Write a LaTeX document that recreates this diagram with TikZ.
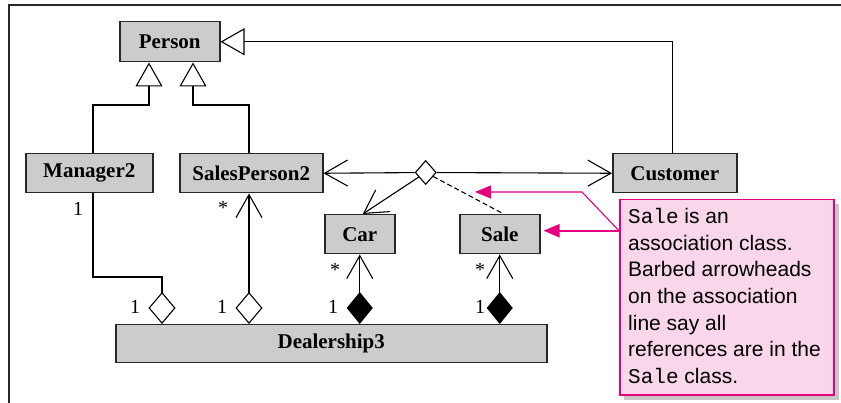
\documentclass[tikz,border=0pt]{standalone}
\usepackage{fontspec}
\setmainfont{Liberation Serif}
\newfontfamily\notesans{Liberation Sans}
\newfontfamily\notemono{Liberation Mono}
\usetikzlibrary{arrows.meta,shapes.geometric}
\definecolor{boxgray}{RGB}{204,204,204}
\definecolor{edgegray}{RGB}{40,40,40}
\definecolor{callmag}{RGB}{230,0,126}
\definecolor{callpink}{RGB}{250,214,234}
\begin{document}
\begin{tikzpicture}[x=1pt,y=-1pt,
  classbox/.style={draw=edgegray, line width=1.5pt, fill=boxgray, inner sep=0pt, anchor=north west,
    font=\fontsize{21}{25}\selectfont\bfseries},
  conn/.style={line width=1.1pt, draw=black},
  inh/.style={conn, -{Triangle[length=24pt,width=27pt,fill=white]}},
  barbend/.style={-{Straight Barb[length=23pt,width=26pt]}},
  aggbarb/.style={arrows={Diamond[length=32pt,width=27pt,fill=white]-Straight Barb[length=23pt,width=26pt]}},
  compbarb/.style={arrows={Diamond[length=32pt,width=26pt,fill=black]-Straight Barb[length=23pt,width=26pt]}},
  aggr/.style={arrows={Diamond[length=32pt,width=27pt,fill=white]-}},
  mult/.style={font=\fontsize{20}{24}\selectfont, inner sep=0pt},
  assoc/.style={diamond, draw=black, line width=1.1pt, fill=white, minimum width=21pt, minimum height=24pt, inner sep=0pt},
  pinkthick/.style={draw=callmag, line width=2pt, -{Triangle[length=16pt,width=13pt]}},
  pinkthin/.style={draw=callmag, line width=1.1pt, -{Triangle[length=16pt,width=13pt]}},
]
\useasboundingbox (0,0) rectangle (841,403);
% frame
\draw[line width=1.5pt, edgegray] (9,403) -- (9,5) -- (841,5);

% classes
\node[classbox, minimum width=100pt, minimum height=40pt] (person) at (119,21) {Person};
\node[classbox, minimum width=127pt, minimum height=39pt] (mgr) at (25,153) {Manager2};
\node[classbox, minimum width=143pt, minimum height=39pt] (sp) at (179,153) {SalesPerson2};
\node[classbox, minimum width=124pt, minimum height=39pt] (cust) at (612,153) {Customer};
\node[classbox, minimum width=70pt, minimum height=39pt] (car) at (324,214) {Car};
\node[classbox, minimum width=80pt, minimum height=39pt] (sale) at (459,214) {Sale};
\node[classbox, minimum width=431pt, minimum height=38pt] (deal) at (115,324) {Dealership3};

% inheritance
\coordinate (j1) at (93,105);
\coordinate (j2) at (149,105);
\coordinate (j3) at (249,105);
\coordinate (j4) at (193,105);
\draw[inh] (mgr.north -| j1) |- (j2) -- (person.south -| j2);
\draw[inh] (sp.north -| j3) |- (j4) -- (person.south -| j4);
\draw[inh] ([xshift=-2pt]cust.north) |- (person.east);

% aggregation / composition
\coordinate (j5) at (162,277);
\coordinate (j6) at (93,277);
\draw[conn, aggr] (deal.north -| j5) |- (j6) -- (mgr.south -| j6);
\draw[conn, aggbarb] (deal.north -| j3) -- (sp.south -| j3);
\draw[conn, compbarb] (deal.north -| car.south) -- (car.south);
\draw[conn, compbarb] (deal.north -| sale.south) -- (sale.south);

% association
\node[assoc] (as) at (425.7,172.5) {};
\draw[conn, barbend] (as) -- (sp.east);
\draw[conn, barbend] (as) -- (cust.west);
\draw[conn, barbend] (as) -- ([xshift=3pt]car.north);
\draw[conn, dash pattern=on 5pt off 3pt] (as) -- ([xshift=4pt]sale.north);

% multiplicities
\node[mult] (m1) at (78,209) {1};
\node[mult] (m2) at (223,208) {*};
\node[mult] (m3) at (135,307) {1};
\node[mult] (m4) at (222,307) {1};
\node[mult] (m5) at (333,307) {1};
\node[mult] (m6) at (480,307) {1};
\node[mult] (m7) at (335,270) {*};
\node[mult] (m8) at (480,270) {*};

% callout
\fill[black!22] (624,204) rectangle (839,400);
\node[draw=callmag, fill=callpink, line width=1.5pt, minimum width=214pt, minimum height=195pt,
  anchor=north west, inner sep=0pt] (note) at (619,199) {};
\node[anchor=north west, align=left, inner sep=0pt, font=\notesans\fontsize{21}{26.7}\selectfont]
  (notetext) at (628,208)
  {{\notemono Sale} is an\\association class.\\Barbed arrowheads\\on the association\\line say all\\references are in the\\{\notemono Sale} class.};

\coordinate (p1) at ([yshift=3.5pt,xshift=3pt]sale.east);
\coordinate (bend) at (582,192);
\coordinate (assocpt) at (475,192);
\draw[pinkthick] (note.west |- p1) -- (p1);
\draw[pinkthin] (note.west |- p1) -- (bend) -- (assocpt);
\end{tikzpicture}
\end{document}
